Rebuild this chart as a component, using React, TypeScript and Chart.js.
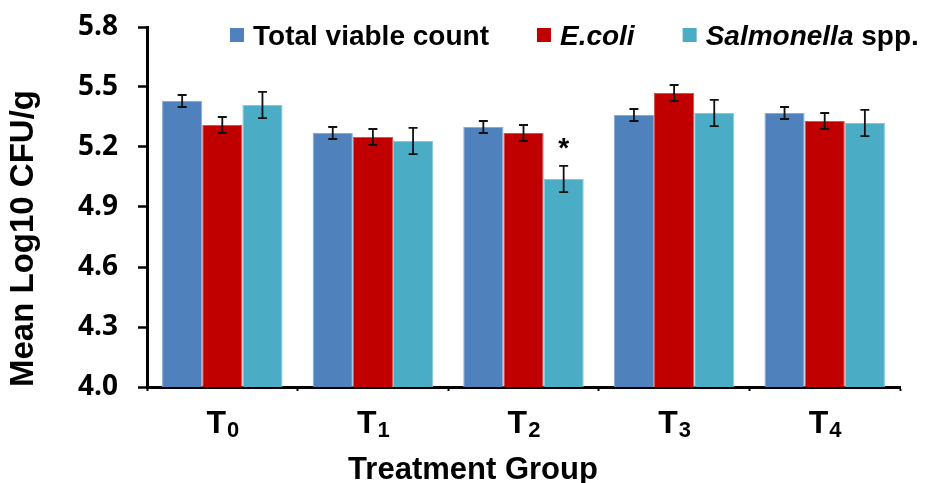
import React, { useEffect, useRef } from "react";
import { Chart, registerables } from "chart.js";

Chart.register(...registerables);

const categories = ["T0", "T1", "T2", "T3", "T4"];
const seriesLabels = ["Total viable count", "E.coli", "Salmonella spp."];
const totalViable = [5.43, 5.27, 5.3, 5.36, 5.37];
const totalViableErr = [0.03, 0.03, 0.03, 0.03, 0.03];
const eColi = [5.31, 5.25, 5.27, 5.47, 5.33];
const eColiErr = [0.04, 0.04, 0.04, 0.04, 0.04];
const salmonella = [5.41, 5.23, 5.04, 5.37, 5.32];
const salmonellaErr = [0.066, 0.066, 0.066, 0.066, 0.066];
const salmonellaMarks = ["", "", "*", "", ""];
const yTicks = [4.0, 4.3, 4.6, 4.9, 5.2, 5.5, 5.8];

const colors = ["#4F81BD", "#C00000", "#4BACC6"];
const borderColors = ["#8aaad6", "#d55050", "#86c8da"];
const ARIAL = "'Liberation Sans', Arial, sans-serif";

// legend label parts (italic flags)
const legendParts = [
  [{ text: "Total viable count", italic: false }],
  [{ text: "E.coli", italic: true }],
  [
    { text: "Salmonella", italic: true },
    { text: " spp.", italic: false },
  ],
];

const errors = [totalViableErr, eColiErr, salmonellaErr];
const marks = [["", "", "", "", ""], ["", "", "", "", ""], salmonellaMarks];

const errorBarPlugin = {
  id: "errorBars",
  afterDatasetsDraw(chart: any) {
    const ctx = chart.ctx;
    const y = chart.scales.y;
    chart.data.datasets.forEach((ds: any, di: number) => {
      const meta = chart.getDatasetMeta(di);
      meta.data.forEach((bar: any, i: number) => {
        const v = ds.data[i];
        const e = errors[di][i];
        const top = y.getPixelForValue(v + e);
        const bot = y.getPixelForValue(v - e);
        const cw = 4.5;
        ctx.save();
        ctx.strokeStyle = "#111";
        ctx.lineWidth = 1.8;
        ctx.beginPath();
        ctx.moveTo(bar.x, top);
        ctx.lineTo(bar.x, bot);
        ctx.moveTo(bar.x - cw, top);
        ctx.lineTo(bar.x + cw, top);
        ctx.moveTo(bar.x - cw, bot);
        ctx.lineTo(bar.x + cw, bot);
        ctx.stroke();
        const m = marks[di][i];
        if (m) {
          ctx.fillStyle = "#000";
          ctx.font = `bold 28px ${ARIAL}`;
          ctx.textAlign = "center";
          ctx.textBaseline = "alphabetic";
          ctx.fillText(m, bar.x, top - 9);
        }
        ctx.restore();
      });
    });
  },
};

const legendPlugin = {
  id: "richLegend",
  afterDraw(chart: any) {
    const ctx = chart.ctx;
    const area = chart.chartArea;
    const fontSize = 28;
    const box = 14;
    const boxGap = 9;
    const itemGap = 48;
    let x = area.left + 83;
    const baseline = area.top + 18;
    ctx.save();
    ctx.textBaseline = "alphabetic";
    ctx.textAlign = "left";
    legendParts.forEach((parts, i) => {
      ctx.fillStyle = colors[i];
      ctx.fillRect(x, baseline - 17, box, box);
      x += box + boxGap;
      parts.forEach((p) => {
        ctx.font = `${p.italic ? "italic " : ""}bold ${fontSize}px ${ARIAL}`;
        ctx.fillStyle = "#000";
        ctx.fillText(p.text, x, baseline);
        x += ctx.measureText(p.text).width;
      });
      x += itemGap;
    });
    ctx.restore();
  },
};

// category labels: "T" with a subscript group number
const xLabelPlugin = {
  id: "xLabels",
  afterDraw(chart: any) {
    const ctx = chart.ctx;
    const xs = chart.scales.x;
    const baseline = xs.top + 46;
    ctx.save();
    ctx.fillStyle = "#000";
    ctx.textAlign = "left";
    ctx.textBaseline = "alphabetic";
    categories.forEach((lab, i) => {
      const main = lab.slice(0, 1);
      const sub = lab.slice(1);
      const cx = xs.getPixelForTick(i);
      ctx.font = `bold 32px ${ARIAL}`;
      const wMain = ctx.measureText(main).width;
      ctx.font = `bold 22px ${ARIAL}`;
      const wSub = ctx.measureText(sub).width;
      const x0 = cx - (wMain + wSub) / 2;
      ctx.font = `bold 32px ${ARIAL}`;
      ctx.fillText(main, x0, baseline);
      ctx.font = `bold 22px ${ARIAL}`;
      ctx.fillText(sub, x0 + wMain + 1, baseline + 4);
    });
    ctx.font = `bold 31px ${ARIAL}`;
    ctx.textAlign = "center";
    ctx.fillText("Treatment Group", chart.width / 2 + 6, chart.height - 4);
    ctx.restore();
  },
};

export default function App() {
  const ref = useRef<HTMLCanvasElement | null>(null);

  useEffect(() => {
    document.body.style.margin = "0";
    const canvas = ref.current;
    if (!canvas) return;
    const series = [totalViable, eColi, salmonella];
    const chart = new Chart(canvas, {
      type: "bar",
      data: {
        labels: categories,
        datasets: series.map((d, i) => ({
          label: seriesLabels[i],
          data: d,
          backgroundColor: colors[i],
          borderColor: borderColors[i],
          borderWidth: 1,
          categoryPercentage: 0.8,
          barPercentage: 1.0,
        })),
      },
      options: {
        animation: false,
        responsive: false,
        devicePixelRatio: 1,
        layout: { padding: { top: 27, right: 34, left: 0, bottom: 0 } },
        plugins: {
          legend: { display: false },
          tooltip: { enabled: false },
        },
        scales: {
          x: {
            afterFit: (s: any) => {
              s.height = 96;
            },
            grid: {
              display: true,
              drawOnChartArea: false,
              drawTicks: true,
              tickLength: 4,
              tickColor: "#000",
              tickWidth: 2,
              offset: true,
            },
            border: { display: true, color: "#000", width: 3 },
            ticks: {
              display: false,
            },
          },
          y: {
            min: 4.0,
            max: 5.8,
            afterFit: (s: any) => {
              s.width = 147;
              s.paddingTop = 0;
              s.paddingBottom = 0;
            },
            afterBuildTicks: (s: any) => {
              s.ticks = yTicks.map((v) => ({ value: v }));
            },
            grid: {
              display: true,
              drawOnChartArea: false,
              drawTicks: true,
              tickLength: 9,
              tickColor: "#000",
              tickWidth: 2.5,
            },
            border: { display: true, color: "#000", width: 3 },
            ticks: {
              color: "#000",
              padding: 20,
              font: { family: "'Open Sans', sans-serif", size: 28, weight: "bold" },
              callback: (v: any) => Number(v).toFixed(1),
            },
            title: {
              display: true,
              text: "Mean Log10 CFU/g",
              align: "start",
              color: "#000",
              font: { family: ARIAL, size: 33, weight: "bold" },
              padding: { top: 4, bottom: 0 },
            },
          },
        },
      },
      plugins: [errorBarPlugin, legendPlugin, xLabelPlugin],
    } as any);
    return () => chart.destroy();
  }, []);

  return (
    <div style={{ width: 934, height: 483 }}>
      <canvas ref={ref} width={934} height={483} />
    </div>
  );
}
